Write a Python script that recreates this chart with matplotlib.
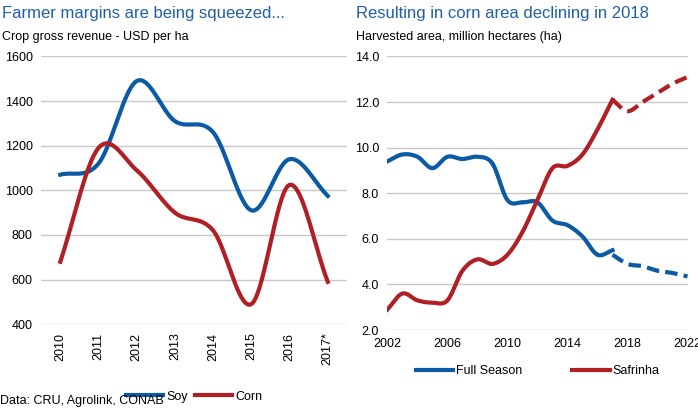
import numpy as np
import matplotlib.pyplot as plt

# left panel
years_l = ["2010", "2011", "2012", "2013", "2014", "2015", "2016", "2017*"]
soy = [1070, 1120, 1490, 1310, 1260, 910, 1140, 975]
corn = [680, 1190, 1090, 900, 820, 490, 1025, 590]

# right panel
years_r = list(range(2002, 2018))
full_season = [9.4, 9.7, 9.6, 9.1, 9.6, 9.5, 9.6, 9.3, 7.7, 7.6, 7.6, 6.8, 6.6, 6.1, 5.3, 5.5]
safrinha = [2.9, 3.6, 3.3, 3.2, 3.3, 4.6, 5.1, 4.9, 5.3, 6.3, 7.7, 9.1, 9.2, 9.7, 10.8, 12.1]
years_f = [2017, 2018, 2019, 2020, 2021, 2022]
full_fc = [5.3, 4.9, 4.8, 4.6, 4.5, 4.35]
safr_fc = [12.1, 11.6, 12.0, 12.4, 12.8, 13.1]

BLUE = "#0b5aa6"
RED = "#b01f24"
TITLE = "#1f5fa8"


def smooth(x, y, n=20):
    # catmull-rom curve through the points, for drawing only
    x = np.asarray(x, float); y = np.asarray(y, float)
    px = np.concatenate([[2*x[0]-x[1]], x, [2*x[-1]-x[-2]]])
    py = np.concatenate([[2*y[0]-y[1]], y, [2*y[-1]-y[-2]]])
    t = np.linspace(0, 1, n)
    xs, ys = [], []
    for i in range(1, len(px)-2):
        for p, out in ((px, xs), (py, ys)):
            p0, p1, p2, p3 = p[i-1], p[i], p[i+1], p[i+2]
            out.extend(0.5*((2*p1) + (-p0+p2)*t + (2*p0-5*p1+4*p2-p3)*t**2 + (-p0+3*p1-3*p2+p3)*t**3))
    return xs, ys


fig = plt.figure(figsize=(6.98, 4.12), dpi=100)
plt.rcParams['font.family'] = ['Liberation Sans', 'DejaVu Sans']

ax1 = fig.add_axes([0.059, 0.213, 0.438, 0.65])
xi = np.arange(len(years_l))
ax1.plot(*smooth(xi, soy), color=BLUE, lw=3, label="Soy")
ax1.plot(*smooth(xi, corn), color=RED, lw=3, label="Corn")
ax1.set_ylim(400, 1600)
ax1.set_yticks(range(400, 1601, 200))
ax1.set_xlim(-0.5, len(years_l)-0.5)
ax1.set_xticks(xi)
ax1.set_xticklabels(years_l, rotation=90)

ax2 = fig.add_axes([0.555, 0.199, 0.43, 0.664])
ax2.plot(*smooth(years_r, full_season), color=BLUE, lw=3, label="Full Season")
ax2.plot(*smooth(years_r, safrinha), color=RED, lw=3, label="Safrinha")
ax2.plot(*smooth(years_f, full_fc), color=BLUE, lw=3, ls=(0, (3, 1.5)))
ax2.plot(*smooth(years_f, safr_fc), color=RED, lw=3, ls=(0, (3, 1.5)))
ax2.set_ylim(2, 14)
ax2.set_yticks(np.arange(2, 14.1, 2))
ax2.set_yticklabels([f"{v:.1f}" for v in np.arange(2, 14.1, 2)])
ax2.set_xlim(2002, 2022)
ax2.set_xticks(range(2002, 2023, 4))

for ax in (ax1, ax2):
    for s in ax.spines.values():
        s.set_visible(False)
    ax.grid(axis="y", color="#c8c8c8", lw=1)
    ax.set_axisbelow(True)
    ax.tick_params(labelsize=9, length=0, pad=6)

ax1.legend(loc="center", bbox_to_anchor=(0.5, -0.27), ncol=2, frameon=False, fontsize=9,
           handlelength=3, columnspacing=0.6, handletextpad=0.2)
ax2.legend(loc="center", bbox_to_anchor=(0.5, -0.15), ncol=2, frameon=False, fontsize=9,
           handlelength=3, columnspacing=4, handletextpad=0.2)

fig.text(0.003, 0.985, "Farmer margins are being squeezed...", color=TITLE, fontsize=12, va="top")
fig.text(0.003, 0.925, "Crop gross revenue - USD per ha", fontsize=9, va="top")
fig.text(0.51, 0.985, "Resulting in corn area declining in 2018", color=TITLE, fontsize=12, va="top")
fig.text(0.51, 0.925, "Harvested area, million hectares (ha)", fontsize=9, va="top")
fig.text(0.0, 0.02, "Data: CRU, Agrolink, CONAB", fontsize=9)

fig.savefig("out.png", dpi=100)
